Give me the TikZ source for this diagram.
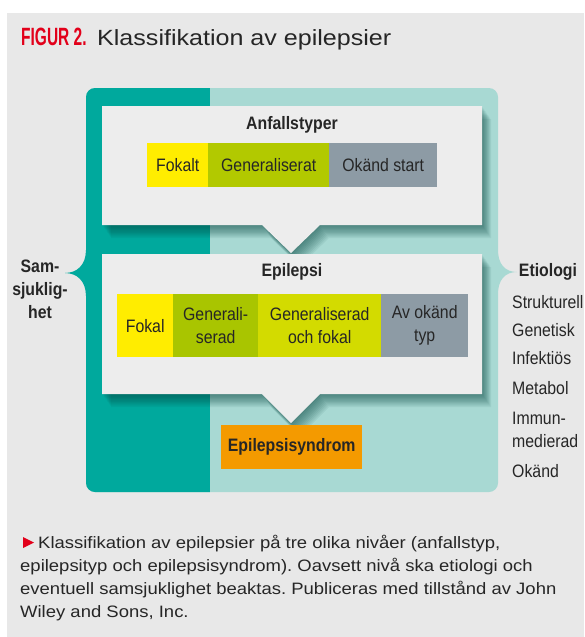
\documentclass[tikz,border=0pt]{standalone}
\usepackage{fontspec}
\setmainfont{Liberation Sans}
\newfontfamily\lblfont[FakeStretch=0.88]{Liberation Sans}
\newfontfamily\capfont[FakeStretch=1.12]{Liberation Sans}
\newfontfamily\ttlfont[FakeStretch=1.14]{Liberation Sans}
\newfontfamily\figfont[FakeStretch=0.62]{Liberation Sans}
\definecolor{bgc}{HTML}{E8E8E8}
\definecolor{boxc}{HTML}{EDEDED}
\definecolor{dteal}{HTML}{00A99D}
\definecolor{lteal}{HTML}{A8D9D3}
\definecolor{shadowc}{HTML}{0B4A44}
\definecolor{yel}{HTML}{FFED00}
\definecolor{grnA}{HTML}{B2C900}
\definecolor{grnB}{HTML}{A9C500}
\definecolor{ygrn}{HTML}{D3DB00}
\definecolor{gry}{HTML}{8D9BA5}
\definecolor{orng}{HTML}{F49A00}
\definecolor{figred}{HTML}{E2001A}
\definecolor{txt}{HTML}{262626}
\newcommand\frameshape[1]{\path[#1] (86,110) [rounded corners=9] -- (86,88) -- (498,88) -- (498,110) [sharp corners] -- (498,250)
  .. controls (498,264) and (505,272) .. (517,272)
  .. controls (505,272) and (498,280) .. (498,294) [rounded corners=9] -- (498,492) -- (86,492) -- (86,470) [sharp corners] -- (86,296)
  .. controls (86,281) and (77,273) .. (65,273)
  .. controls (77,273) and (86,265) .. (86,250) -- cycle;}
\newcommand\calloutA[1]{\path[#1] (102,106) -- (482,106) -- (482,225) -- (320,225) -- (291,253) -- (262,225) -- (102,225) -- cycle;}
\newcommand\calloutB[1]{\path[#1] (102,254) -- (482,254) -- (482,394) -- (320,394) -- (291,423) -- (262,394) -- (102,394) -- cycle;}
\begin{document}
\frenchspacing
\begin{tikzpicture}[x=1pt,y=-1pt,
  lbl/.style={font=\lblfont\fontsize{18}{23}\selectfont, text=txt, inner sep=0, align=center},
  blbl/.style={font=\lblfont\bfseries\fontsize{18}{23}\selectfont, text=txt, inner sep=0, align=center},
  cell/.style={lbl, anchor=north west, minimum height=44},
  cellB/.style={lbl, anchor=north west, minimum height=63},
  shadowlayer/.style={fill=shadowc, opacity=0.075},
  capline/.style={anchor=base west, inner sep=0, font=\capfont\fontsize{16.5}{23}\selectfont, text=txt},
  etio/.style={lbl, anchor=west}]
\useasboundingbox (0,0) rectangle (584,637);
\fill[white] (0,0) rectangle (584,637);
\fill[bgc] (7,13) rectangle (584,637);
% title
\node[anchor=base west, inner sep=0, text=figred, font=\figfont\bfseries\fontsize{25}{27}\selectfont] (fig) at (21,45) {FIGUR 2.};
\node[anchor=base west, inner sep=0, text=txt, font=\ttlfont\fontsize{22}{25}\selectfont] (title) at (97,45) {Klassifikation av epilepsier};
% frame
\frameshape{fill=lteal}
\begin{scope}
  \frameshape{clip}
  \fill[dteal] (50,80) rectangle (210,500);
  \foreach \d in {1,...,10} {\calloutA{shadowlayer, shift={(0.9*\d,1.3*\d)}}}
  \calloutA{fill=boxc}
  \foreach \d in {1,...,10} {\calloutB{shadowlayer, shift={(0.9*\d,1.3*\d)}}}
  \calloutB{fill=boxc}
\end{scope}
% level 1
\node[blbl] (anf) at (292,125) {Anfallstyper};
\node[cell, fill=yel, minimum width=61] (fokalt) at (147,143) {Fokalt};
\node[cell, fill=grnA, minimum width=121] (gen) at (208,143) {Generaliserat};
\node[cell, fill=gry, minimum width=108] (okstart) at (329,143) {Okänd start};
% level 2
\node[blbl] (epi) at (292,272) {Epilepsi};
\node[cellB, fill=yel, minimum width=56] (fokal) at (117,294) {Fokal};
\node[cellB, fill=grnB, minimum width=85] (gens) at (173,294) {Generali-\\serad};
\node[cellB, fill=ygrn, minimum width=123] (genf) at (258,294) {Generaliserad\\och fokal};
\node[cellB, fill=gry, minimum width=87] (okt) at (381,294) {Av okänd\\typ};
% level 3
\node[blbl, anchor=north west, fill=orng, minimum width=141, minimum height=44] (syn) at (221,425) {Epilepsisyndrom};
% side labels
\node[blbl] (sam) at (40,289) {Sam-\\sjuklig-\\het};
\node[blbl] (etiol) at (548,272) {Etiologi};
\node[etio] (e1) at (512,302) {Strukturell};
\node[etio] (e2) at (512,330) {Genetisk};
\node[etio] (e3) at (512,358) {Infektiös};
\node[etio] (e4) at (512,388) {Metabol};
\node[etio, align=left] (e5) at (512,430) {Immun-\\medierad};
\node[etio] (e6) at (512,471) {Okänd};
% caption
\fill[figred] (23,537) -- (34,542.5) -- (23,548) -- cycle;
\node[capline] (c1) at (38,548) {Klassifikation av epilepsier på tre olika nivåer (anfallstyp,};
\node[capline] (c2) at (20,571) {epilepsityp och epilepsisyndrom). Oavsett nivå ska etiologi och};
\node[capline] (c3) at (20,594) {eventuell samsjuklighet beaktas. Publiceras med tillstånd av John};
\node[capline] (c4) at (20,617) {Wiley and Sons, Inc.};
\end{tikzpicture}
\end{document}
